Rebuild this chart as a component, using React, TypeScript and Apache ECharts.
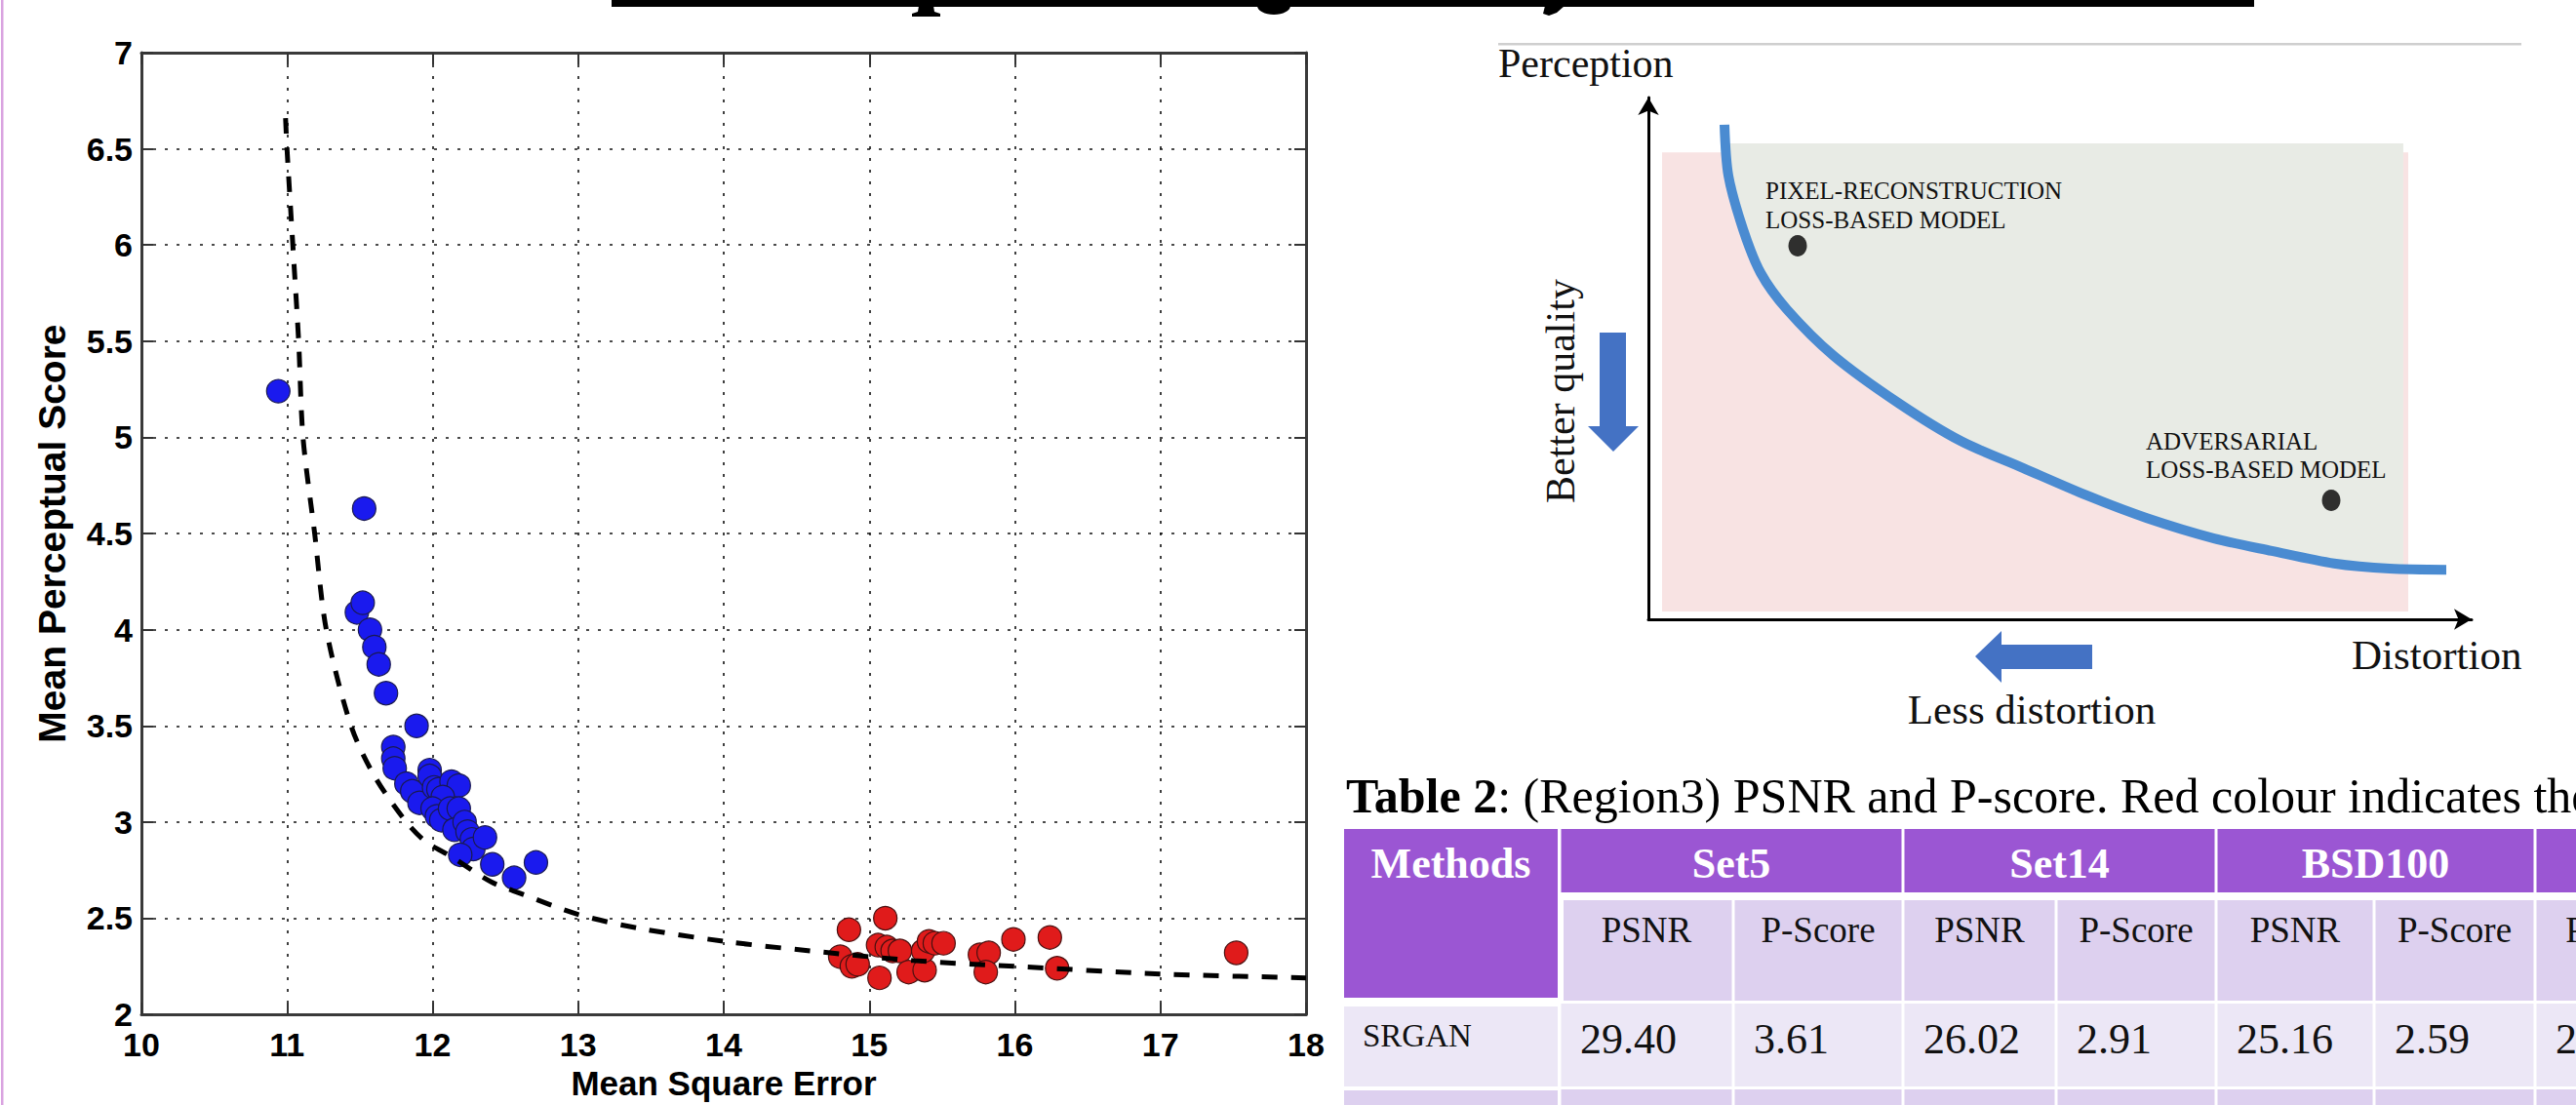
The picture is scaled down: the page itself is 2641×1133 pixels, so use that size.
import React, { useEffect, useRef } from "react";
import * as echarts from "echarts";

// ---------------- Scatter chart data (Mean Square Error vs Mean Perceptual Score)
const blueMSE = [10.94, 11.53, 11.48, 11.52, 11.57, 11.6, 11.63, 11.68, 11.89, 11.73, 11.73, 11.74, 11.82, 11.86, 11.91, 11.98, 11.98, 12.01, 12.04, 12.13, 12.18, 12.07, 12.0, 12.03, 12.06, 12.12, 12.18, 12.15, 12.22, 12.24, 12.27, 12.28, 12.19, 12.36, 12.41, 12.56, 12.71];
const bluePS = [5.24, 4.63, 4.09, 4.14, 4.0, 3.91, 3.82, 3.67, 3.5, 3.39, 3.33, 3.28, 3.2, 3.16, 3.1, 3.27, 3.24, 3.18, 3.17, 3.21, 3.19, 3.13, 3.07, 3.03, 3.01, 3.07, 3.07, 2.96, 3.0, 2.95, 2.91, 2.86, 2.83, 2.92, 2.78, 2.71, 2.79];
const redMSE = [14.86, 14.8, 14.88, 14.92, 15.11, 15.07, 15.06, 15.12, 15.16, 15.21, 15.27, 15.38, 15.37, 15.41, 15.45, 15.51, 15.76, 15.82, 15.8, 15.99, 16.24, 16.29, 17.52];
const redPS = [2.44, 2.3, 2.25, 2.26, 2.5, 2.19, 2.36, 2.35, 2.33, 2.33, 2.22, 2.23, 2.33, 2.38, 2.37, 2.37, 2.31, 2.32, 2.22, 2.39, 2.4, 2.24, 2.32];
const fitMSE = [10.99, 11.0, 11.04, 11.08, 11.11, 11.19, 11.27, 11.44, 11.6, 11.82, 11.95, 12.13, 12.4, 12.6, 13.0, 13.4, 14.0, 14.6, 15.3, 16.0, 17.0, 18.0];
const fitPS = [6.66, 6.5, 6.0, 5.5, 5.0, 4.5, 4.0, 3.5, 3.24, 3.0, 2.9, 2.82, 2.69, 2.63, 2.52, 2.45, 2.38, 2.33, 2.28, 2.25, 2.21, 2.19];

// ---------------- Perception-distortion diagram (normalised 0..100 units)
const frontierX = [9.24, 9.72, 11.49, 13.63, 16.82, 22.51, 30.33, 37.91, 45.5, 53.32, 60.55, 68.72, 75.71, 83.29, 90.05, 96.92];
const frontierY = [94.8, 85.0, 74.8, 66.4, 59.4, 50.5, 41.5, 34.2, 29.0, 23.7, 19.4, 15.5, 13.1, 10.7, 9.7, 9.5];
const pinkX = [1.66, 92.3, 92.3, 1.66];
const pinkY = [89.5, 89.5, 1.5, 1.5];
const grayX = [9.4, 91.7, 91.7, 90.05, 83.29, 75.71, 68.72, 60.55, 53.32, 45.5, 37.91, 30.33, 22.51, 16.82, 13.63, 11.49, 9.72];
const grayY = [91.2, 91.2, 9.65, 9.7, 10.7, 13.1, 15.5, 19.4, 23.7, 29.0, 34.2, 41.5, 50.5, 59.4, 66.4, 74.8, 85.0];
const modelX = [18.13, 82.94];
const modelY = [71.6, 22.8];

// ---------------- Table data
const tableCaptionBold = "Table 2";
const tableCaptionRest = ": (Region3) PSNR and P-score. Red colour indicates the";
const datasets = ["Set5", "Set14", "BSD100", ""];
const metricCols = ["PSNR", "P-Score", "PSNR", "P-Score", "PSNR", "P-Score", "PSNR", "P-Score"];
const methods = ["SRGAN", ""];
const srganScores = ["29.40", "3.61", "26.02", "2.91", "25.16", "2.59", "2"];

const SANS = "Liberation Sans, Arial, Helvetica, sans-serif";
const SERIF = "Liberation Serif, Times New Roman, serif";

function zip(a: number[], b: number[]) {
  return a.map((v, i) => [v, b[i]]);
}

function buildGraphics() {
  const els: any[] = [];
  // left page border
  els.push({ type: "rect", shape: { x: 1, y: 0, width: 2.5, height: 1133 }, style: { fill: "#d9a3e0" } });
  // cut-off title underline and descender fragments
  els.push({ type: "rect", shape: { x: 627, y: 0, width: 1684, height: 7 }, style: { fill: "#000" } });
  els.push({ type: "polygon", shape: { points: [[942, 6], [957, 6], [958, 12], [964, 14], [964, 17], [935, 17], [935, 14], [941, 12]] }, style: { fill: "#000" } });
  els.push({ type: "ellipse", shape: { cx: 1306, cy: 6, rx: 17, ry: 9 }, style: { fill: "#000" } });
  els.push({ type: "polygon", shape: { points: [[1584, 6], [1604, 6], [1596, 13], [1588, 16], [1582, 14]] }, style: { fill: "#000" } });
  // thin gray rule above diagram
  els.push({ type: "rect", shape: { x: 1536, y: 44, width: 1049, height: 2.5 }, style: { fill: "#cfcfcf" } });

  // diagram texts
  const t = (text: string, x: number, y: number, size: number, align = "left", extra: any = {}) => ({
    type: "text",
    x,
    y,
    z: 50,
    ...extra,
    style: { text, fontSize: size, fontFamily: SERIF, fill: "#111", align, verticalAlign: "middle" },
  });
  els.push(t("Perception", 1536, 65, 42));
  els.push(t("PIXEL-RECONSTRUCTION", 1810, 195, 25));
  els.push(t("LOSS-BASED MODEL", 1810, 225, 25));
  els.push(t("ADVERSARIAL", 2200, 452, 25));
  els.push(t("LOSS-BASED MODEL", 2200, 481, 25));
  els.push(t("Better quality", 1600, 401, 42, "center", { rotation: Math.PI / 2 }));
  els.push(t("Distortion", 2411, 671, 43));
  els.push(t("Less distortion", 2083, 727, 43, "center"));
  // blue arrows
  els.push({ type: "polygon", z: 50, shape: { points: [[1640, 341], [1667, 341], [1667, 437], [1680, 437], [1654, 463], [1628, 437], [1640, 437]] }, style: { fill: "#4472c4" } });
  els.push({ type: "polygon", z: 50, shape: { points: [[2145, 661], [2145, 686], [2052, 686], [2052, 700], [2025, 673], [2052, 647], [2052, 661]] }, style: { fill: "#4472c4" } });

  // table
  const PURPLE = "#9b56d3";
  const LAV = "#ddd0ef";
  const LAV2 = "#ece7f6";
  const colEdges = [1378, 1599, 1777, 1951, 2108, 2272, 2434, 2599, 2754, 2910];
  const rect = (x: number, y: number, w: number, h: number, fill: string) => ({ type: "rect", shape: { x, y, width: w, height: h }, style: { fill } });
  const tx = (text: string, x: number, y: number, size: number, color: string, align: string, weight = "normal") => ({
    type: "text",
    x,
    y,
    z: 60,
    style: { text, fontSize: size, fontFamily: SERIF, fontWeight: weight, fill: color, align, verticalAlign: "middle" },
  });
  els.push({
    type: "text",
    x: 1380,
    y: 816,
    style: {
      text: `{b|${tableCaptionBold}}{r|${tableCaptionRest}}`,
      verticalAlign: "middle",
      rich: {
        b: { fontSize: 50, fontFamily: SERIF, fontWeight: "bold", fill: "#000", color: "#000" },
        r: { fontSize: 50, fontFamily: SERIF, fill: "#000", color: "#000" },
      },
    },
  });
  // header row 1
  els.push(rect(1378, 850, 219, 173, PURPLE));
  els.push(tx("Methods", 1487.5, 885, 44, "#fff", "center", "bold"));
  datasets.forEach((d, i) => {
    const x0 = colEdges[1 + 2 * i];
    const x1 = colEdges[3 + 2 * i];
    els.push(rect(x0 + 1.5, 850, x1 - x0 - 3, 65, PURPLE));
    if (d) els.push(tx(d, (x0 + x1) / 2, 885, 44, "#fff", "center", "bold"));
  });
  // header row 2
  metricCols.forEach((m, i) => {
    const x0 = colEdges[1 + i];
    const x1 = colEdges[2 + i];
    const l = i === 0 ? x0 + 4 : x0 + 1.5;
    els.push(rect(l, 923, x1 - 1.5 - l, 103, LAV));
    els.push(tx(m, (x0 + x1) / 2, 953, 37, "#111", "center"));
  });
  // SRGAN row
  els.push(rect(1378, 1032, 219, 82, LAV2));
  els.push(tx(methods[0], 1397, 1062, 33, "#111", "left"));
  for (let i = 0; i < 8; i++) {
    const x0 = colEdges[1 + i];
    const x1 = colEdges[2 + i];
    els.push(rect(x0 + 1.5, 1029, x1 - x0 - 3, 85, LAV2));
    if (srganScores[i]) els.push(tx(srganScores[i], x0 + 21, 1065, 44, "#111", "left"));
  }
  // next row (cut off)
  els.push(rect(1378, 1118, 219, 40, LAV));
  if (methods[1]) els.push(tx(methods[1], 1397, 1140, 33, "#111", "left"));
  for (let i = 0; i < 8; i++) {
    const x0 = colEdges[1 + i];
    const x1 = colEdges[2 + i];
    els.push(rect(x0 + 1.5, 1117, x1 - x0 - 3, 40, LAV));
  }
  return els;
}

function buildOption(): any {
  const axisLineStyle = { color: "#3a3a3a", width: 3 };
  const gridDots = { type: [3, 9], color: "#111", width: 1.6 };
  const tickStyle = { show: true, inside: true, length: 12, lineStyle: { color: "#333", width: 2 } };
  const labelFont = { fontSize: 34, fontWeight: "bold", fontFamily: SANS, color: "#000" };

  return {
    animation: false,
    backgroundColor: "#ffffff",
    grid: [
      { left: 145, top: 54, width: 1194, height: 992 },
      { left: 1690, top: 100, width: 844, height: 535 },
    ],
    xAxis: [
      {
        gridIndex: 0,
        type: "value",
        min: 10,
        max: 18,
        interval: 1,
        position: "bottom",
        name: "Mean Square Error",
        nameLocation: "middle",
        nameGap: 47,
        nameTextStyle: { fontSize: 35, fontWeight: "bold", fontFamily: SANS, color: "#000" },
        axisLine: { show: true, onZero: false, lineStyle: axisLineStyle },
        axisTick: tickStyle,
        axisLabel: { ...labelFont, margin: 14, showMinLabel: true, showMaxLabel: true },
        splitLine: { show: true, lineStyle: gridDots },
      },
      {
        gridIndex: 0,
        type: "value",
        min: 10,
        max: 18,
        interval: 1,
        position: "top",
        axisLine: { show: true, onZero: false, lineStyle: axisLineStyle },
        axisTick: tickStyle,
        axisLabel: { show: false },
        splitLine: { show: false },
      },
      {
        gridIndex: 1,
        type: "value",
        min: 0,
        max: 100,
        axisLine: { show: true, onZero: false, symbol: ["none", "arrow"], symbolSize: [16, 18], lineStyle: { color: "#000", width: 3 } },
        axisTick: { show: false },
        axisLabel: { show: false },
        splitLine: { show: false },
      },
    ],
    yAxis: [
      {
        gridIndex: 0,
        type: "value",
        min: 2,
        max: 7,
        interval: 0.5,
        position: "left",
        name: "Mean Perceptual Score",
        nameLocation: "middle",
        nameGap: 72,
        nameTextStyle: { fontSize: 39, fontWeight: "bold", fontFamily: SANS, color: "#000" },
        axisLine: { show: true, onZero: false, lineStyle: axisLineStyle },
        axisTick: tickStyle,
        axisLabel: { ...labelFont, margin: 9, showMinLabel: true, showMaxLabel: true },
        splitLine: { show: true, lineStyle: gridDots },
      },
      {
        gridIndex: 0,
        type: "value",
        min: 2,
        max: 7,
        interval: 0.5,
        position: "right",
        axisLine: { show: true, onZero: false, lineStyle: axisLineStyle },
        axisTick: tickStyle,
        axisLabel: { show: false },
        splitLine: { show: false },
      },
      {
        gridIndex: 1,
        type: "value",
        min: 0,
        max: 100,
        axisLine: { show: true, onZero: false, symbol: ["none", "arrow"], symbolSize: [16, 18], lineStyle: { color: "#000", width: 3 } },
        axisTick: { show: false },
        axisLabel: { show: false },
        splitLine: { show: false },
      },
    ],
    series: [
      {
        name: "Adversarial",
        type: "scatter",
        xAxisIndex: 0,
        yAxisIndex: 0,
        data: zip(blueMSE, bluePS),
        symbol: "circle",
        symbolSize: 24,
        itemStyle: { color: "#1a1aee", borderColor: "#1a1a50", borderWidth: 1.2, opacity: 1 },
        z: 3,
      },
      {
        name: "Pixel",
        type: "scatter",
        xAxisIndex: 0,
        yAxisIndex: 0,
        data: zip(redMSE, redPS),
        symbol: "circle",
        symbolSize: 24,
        itemStyle: { color: "#e01b1b", borderColor: "#4a1010", borderWidth: 1.2, opacity: 1 },
        z: 3,
      },
      {
        name: "Fit",
        type: "line",
        xAxisIndex: 0,
        yAxisIndex: 0,
        data: zip(fitMSE, fitPS),
        showSymbol: false,
        smooth: 0.3,
        lineStyle: { color: "#000", width: 5, type: [16, 14], cap: "butt" },
        z: 4,
      },
      {
        name: "pinkRegion",
        type: "custom",
        xAxisIndex: 2,
        yAxisIndex: 2,
        data: [[0, 0]],
        silent: true,
        z: 1,
        renderItem: (_p: any, api: any) => ({
          type: "polygon",
          shape: { points: pinkX.map((x, i) => api.coord([x, pinkY[i]])) },
          style: { fill: "#f8e3e3" },
        }),
      },
      {
        name: "grayRegion",
        type: "custom",
        xAxisIndex: 2,
        yAxisIndex: 2,
        data: [[0, 0]],
        silent: true,
        z: 2,
        renderItem: (_p: any, api: any) => ({
          type: "polygon",
          shape: { points: grayX.map((x, i) => api.coord([x, grayY[i]])) },
          style: { fill: "#e8ebe5" },
        }),
      },
      {
        name: "frontier",
        type: "line",
        xAxisIndex: 2,
        yAxisIndex: 2,
        data: zip(frontierX, frontierY),
        showSymbol: false,
        smooth: 0.3,
        lineStyle: { color: "#4a8bd1", width: 10, cap: "butt" },
        z: 5,
      },
      {
        name: "models",
        type: "scatter",
        xAxisIndex: 2,
        yAxisIndex: 2,
        data: zip(modelX, modelY),
        symbol: "circle",
        symbolSize: [19, 22],
        itemStyle: { color: "#000" },
        z: 6,
      },
    ],
    graphic: { elements: buildGraphics() },
  };
}

export default function App() {
  const ref = useRef<HTMLDivElement>(null);
  useEffect(() => {
    if (!ref.current) return;
    const chart = echarts.init(ref.current, null, { renderer: "svg" });
    chart.setOption(buildOption());
    return () => chart.dispose();
  }, []);
  return (
    <div
      ref={ref}
      style={{ position: "absolute", left: 0, top: 0, width: 2641, height: 1133, background: "#fff" }}
    />
  );
}
